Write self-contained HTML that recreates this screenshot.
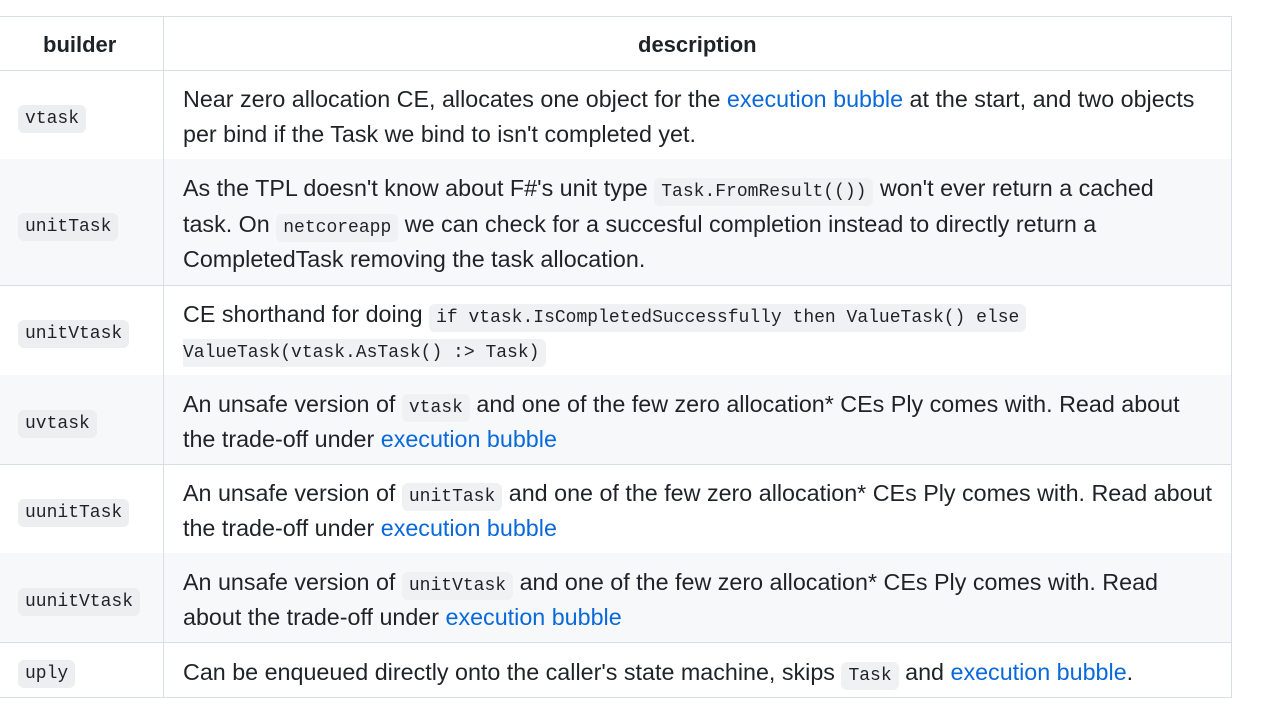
<!DOCTYPE html>
<html><head><meta charset="utf-8"><style>
body{margin:0;width:1280px;height:713px;background:#fff;position:relative;overflow:hidden;font-family:"Liberation Sans",sans-serif;color:#1f2328}
.row{position:absolute;left:0;width:1232px;border-bottom:1px solid #d8dee4;border-right:1px solid #d8dee4;box-sizing:border-box}
.g{background:#f6f8fa}
.div{position:absolute;left:163px;top:16px;width:1px;height:681px;background:#d8dee4}
.l{position:absolute;left:183px;font-size:23.3px;line-height:34px;white-space:nowrap}
.b{position:absolute;left:18px;font-size:18px;line-height:30px;white-space:nowrap}
code{font-family:"Liberation Mono",monospace;font-size:18px;background:#eff1f3;border-radius:6px;padding:4px 7px}
.b code{background:#eceef0}
a{color:#0969da;text-decoration:none}
.h{position:absolute;top:28px;font-weight:bold;font-size:22px;line-height:34px}
</style></head><body>
<div class="row" style="top:16px;height:55px;border-top:1px solid #d8dee4"></div>
<div class="row" style="top:70px;height:90px"></div>
<div class="row g" style="top:159px;height:127px"></div>
<div class="row" style="top:285px;height:91px"></div>
<div class="row g" style="top:375px;height:90px"></div>
<div class="row" style="top:464px;height:90px"></div>
<div class="row g" style="top:553px;height:90px"></div>
<div class="row" style="top:642px;height:56px"></div>
<div class="div"></div>
<div class="h" style="left:43px">builder</div>
<div class="h" style="left:638px">description</div>

<div class="b" style="top:102px"><code>vtask</code></div>
<div class="l" style="top:82px">Near zero allocation CE, allocates one object for the <a>execution bubble</a> at the start, and two objects</div>
<div class="l" style="top:117px">per bind if the Task we bind to isn't completed yet.</div>

<div class="b" style="top:210px"><code>unitTask</code></div>
<div class="l" style="top:171px">As the TPL doesn't know about F#'s unit type <code>Task.FromResult(())</code> won't ever return a cached</div>
<div class="l" style="top:207px">task. On <code>netcoreapp</code> we can check for a succesful completion instead to directly return a</div>
<div class="l" style="top:242px">CompletedTask removing the task allocation.</div>

<div class="b" style="top:317px"><code>unitVtask</code></div>
<div class="l" style="top:297px">CE shorthand for doing <code>if vtask.IsCompletedSuccessfully then ValueTask() else</code></div>
<div class="l" style="top:332px"><code style="padding-left:0;border-radius:0 6px 6px 0">ValueTask(vtask.AsTask() :&gt; Task)</code></div>

<div class="b" style="top:407px"><code>uvtask</code></div>
<div class="l" style="top:387px">An unsafe version of <code>vtask</code> and one of the few zero allocation* CEs Ply comes with. Read about</div>
<div class="l" style="top:422px">the trade-off under <a>execution bubble</a></div>

<div class="b" style="top:496px"><code>uunitTask</code></div>
<div class="l" style="top:476px">An unsafe version of <code>unitTask</code> and one of the few zero allocation* CEs Ply comes with. Read about</div>
<div class="l" style="top:511px">the trade-off under <a>execution bubble</a></div>

<div class="b" style="top:585px"><code>uunitVtask</code></div>
<div class="l" style="top:565px">An unsafe version of <code>unitVtask</code> and one of the few zero allocation* CEs Ply comes with. Read</div>
<div class="l" style="top:600px">about the trade-off under <a>execution bubble</a></div>

<div class="b" style="top:657px"><code>uply</code></div>
<div class="l" style="top:655px">Can be enqueued directly onto the caller's state machine, skips <code>Task</code> and <a>execution bubble</a>.</div>
</body></html>
